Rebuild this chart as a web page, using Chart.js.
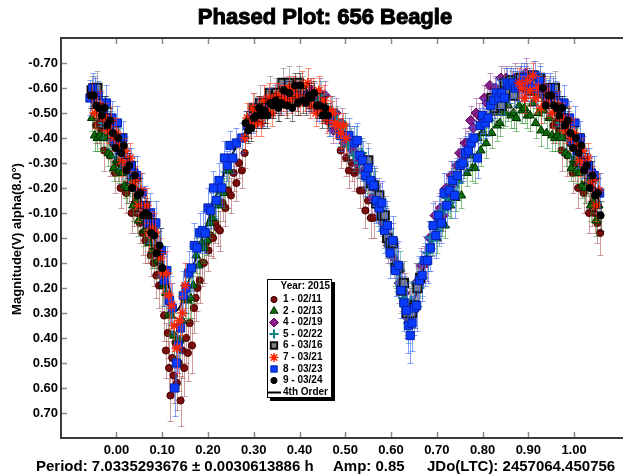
<!DOCTYPE html>
<html>
<head>
<meta charset="utf-8">
<title>Phased Plot: 656 Beagle</title>
<script src="https://cdn.jsdelivr.net/npm/chart.js@4.4.1/dist/chart.umd.min.js"></script>
<style>
  html, body { margin: 0; padding: 0; background: #ffffff; }
  canvas { display: block; }
</style>
</head>
<body>
<canvas id="lc" width="631" height="476"></canvas>
<script>
// ---- axis ticks ----
const xTickValues = [0.0, 0.1, 0.2, 0.3, 0.4, 0.5, 0.6, 0.7, 0.8, 0.9, 1.0];
const yTickValues = [-0.7, -0.6, -0.5, -0.4, -0.3, -0.2, -0.1, 0.0, 0.1, 0.2, 0.3, 0.4, 0.5, 0.6, 0.7];

// ---- observing sessions: [phase, reduced V magnitude, error] ----
const night1 = [ // 02/11
  [0.955,-0.45,0.07],[0.961,-0.46,0.08],[0.967,-0.43,0.07],[0.973,-0.35,0.08],[0.979,-0.41,0.07],
  [0.985,-0.33,0.08],[0.991,-0.38,0.07],[0.997,-0.26,0.08],[0.003,-0.30,0.07],[0.009,-0.20,0.08],
  [0.015,-0.27,0.07],[0.021,-0.18,0.08],[0.027,-0.21,0.07],[0.033,-0.10,0.08],[0.039,-0.13,0.08],
  [0.045,-0.10,0.08],[0.051,-0.06,0.08],[0.057,-0.02,0.09],[0.063,0.01,0.09],[0.069,0.01,0.09],
  [0.075,0.07,0.08],[0.081,0.10,0.09],[0.087,0.15,0.09],[0.093,0.19,0.09],[0.099,0.19,0.10],
  [0.104,0.31,0.10],[0.108,0.45,0.11],[0.112,0.38,0.10],[0.115,0.52,0.11],[0.118,0.63,0.10],
  [0.122,0.48,0.11],[0.125,0.55,0.11],[0.129,0.42,0.10],[0.132,0.58,0.11],[0.136,0.50,0.11],
  [0.140,0.65,0.10],[0.144,0.45,0.11],[0.148,0.52,0.11],[0.152,0.40,0.10],[0.156,0.46,0.11],
  [0.160,0.34,0.10],[0.165,0.43,0.11],[0.169,0.28,0.10],[0.173,0.24,0.09],[0.177,0.20,0.09],
  [0.182,0.17,0.09],[0.186,0.10,0.09],[0.191,0.10,0.08],[0.196,0.02,0.08],[0.201,0.05,0.08],
  [0.206,-0.01,0.08],[0.211,0.00,0.08],[0.216,-0.06,0.08],[0.221,-0.04,0.07],[0.226,-0.03,0.08],
  [0.232,-0.14,0.07],[0.238,-0.12,0.07],[0.244,-0.19,0.07],[0.250,-0.17,0.07],[0.256,-0.26,0.07],
  [0.262,-0.22,0.07],[0.268,-0.30,0.06],[0.274,-0.27,0.07],[0.280,-0.34,0.06],
  [0.490,-0.35,0.07],[0.496,-0.38,0.07],[0.502,-0.32,0.07],[0.508,-0.27,0.07],[0.514,-0.30,0.07],
  [0.520,-0.26,0.07],[0.526,-0.27,0.07],[0.532,-0.19,0.07],[0.538,-0.19,0.07],[0.544,-0.11,0.07],
  [0.550,-0.15,0.07],[0.556,-0.08,0.08],[0.562,-0.08,0.08]
];
const night2 = [ // 02/13
  [0.700,0.00,0.06],[0.706,-0.08,0.05],[0.712,-0.07,0.06],[0.718,-0.05,0.05],[0.724,-0.15,0.06],
  [0.730,-0.13,0.05],[0.736,-0.22,0.06],[0.742,-0.16,0.05],[0.748,-0.23,0.06],[0.754,-0.17,0.05],
  [0.760,-0.30,0.06],[0.766,-0.26,0.05],[0.772,-0.33,0.06],[0.778,-0.28,0.05],[0.784,-0.28,0.06],
  [0.790,-0.40,0.05],[0.796,-0.35,0.06],[0.802,-0.42,0.05],[0.808,-0.38,0.06],[0.814,-0.48,0.05],
  [0.820,-0.42,0.06],[0.826,-0.50,0.05],[0.832,-0.45,0.06],[0.838,-0.46,0.05],[0.844,-0.50,0.06],
  [0.850,-0.50,0.05],[0.856,-0.53,0.06],[0.862,-0.49,0.05],[0.868,-0.50,0.06],[0.874,-0.48,0.05],
  [0.880,-0.53,0.06],[0.886,-0.51,0.05],[0.892,-0.52,0.06],[0.898,-0.49,0.05],[0.904,-0.49,0.06],
  [0.910,-0.54,0.05],[0.916,-0.46,0.06],[0.922,-0.50,0.05],[0.928,-0.43,0.06],[0.934,-0.51,0.05],
  [0.940,-0.42,0.06],[0.946,-0.48,0.05],[0.952,-0.41,0.06],[0.958,-0.40,0.05],[0.964,-0.41,0.06],
  [0.970,-0.40,0.05],[0.976,-0.40,0.06],[0.982,-0.34,0.05],[0.988,-0.33,0.06],[0.994,-0.28,0.05],
  [0.000,-0.31,0.06],[0.006,-0.27,0.05],[0.012,-0.26,0.06],[0.018,-0.21,0.05],[0.024,-0.20,0.06],
  [0.030,-0.22,0.05],[0.036,-0.13,0.06],[0.042,-0.15,0.05],[0.048,-0.07,0.06],[0.054,-0.13,0.06],
  [0.060,-0.03,0.06],[0.066,-0.06,0.06],[0.072,0.02,0.06],[0.078,0.05,0.07],[0.084,0.05,0.07],
  [0.090,0.09,0.07],[0.096,0.10,0.07],[0.102,0.19,0.08],[0.108,0.22,0.08],[0.114,0.31,0.08],
  [0.120,0.31,0.09],[0.126,0.39,0.09],[0.132,0.41,0.09],[0.138,0.41,0.09],[0.144,0.33,0.08],
  [0.150,0.24,0.08],[0.156,0.25,0.08],[0.162,0.24,0.08],[0.168,0.19,0.07],[0.174,0.07,0.07],
  [0.180,0.11,0.07],[0.186,0.02,0.07],[0.192,0.04,0.06],[0.198,0.01,0.06],[0.204,-0.06,0.06],
  [0.210,-0.08,0.06],[0.216,-0.15,0.06],[0.222,-0.13,0.06],[0.228,-0.19,0.06],[0.234,-0.18,0.06],
  [0.240,-0.27,0.06],[0.246,-0.27,0.06]
];
const night4 = [ // 02/19
  [0.420,-0.56,0.06],[0.426,-0.59,0.05],[0.432,-0.56,0.06],[0.438,-0.52,0.05],[0.444,-0.58,0.06],
  [0.450,-0.53,0.05],[0.456,-0.57,0.06],[0.462,-0.48,0.05],[0.468,-0.51,0.06],[0.474,-0.43,0.05],
  [0.480,-0.50,0.06],[0.486,-0.43,0.05],[0.492,-0.46,0.06],[0.498,-0.38,0.05],[0.504,-0.40,0.06],
  [0.510,-0.40,0.05],[0.516,-0.35,0.06],[0.522,-0.34,0.06],[0.528,-0.30,0.06],[0.534,-0.33,0.06],
  [0.540,-0.27,0.06],[0.546,-0.27,0.06],[0.552,-0.23,0.06],[0.558,-0.16,0.06],[0.564,-0.20,0.07],
  [0.570,-0.16,0.07],[0.576,-0.15,0.07],[0.582,-0.06,0.07],[0.588,-0.05,0.07],[0.594,0.03,0.07],
  [0.600,0.01,0.07],[0.606,0.08,0.08],[0.612,0.10,0.08],[0.618,0.18,0.08],[0.624,0.21,0.08],
  [0.630,0.22,0.08],[0.636,0.32,0.08],[0.642,0.28,0.08],[0.648,0.28,0.08],[0.654,0.18,0.08],
  [0.660,0.19,0.08],[0.666,0.11,0.07],[0.672,0.10,0.07],[0.678,0.10,0.07],[0.684,0.00,0.07],
  [0.690,0.00,0.07],[0.696,-0.09,0.06],[0.702,-0.05,0.06],[0.708,-0.12,0.06],[0.714,-0.09,0.06],
  [0.720,-0.20,0.06],[0.726,-0.18,0.06],[0.732,-0.25,0.06],[0.738,-0.22,0.06],[0.744,-0.29,0.05],
  [0.750,-0.34,0.06],[0.756,-0.33,0.05],[0.762,-0.38,0.06],[0.768,-0.38,0.05],[0.774,-0.47,0.06],
  [0.780,-0.44,0.05],[0.786,-0.50,0.06],[0.792,-0.49,0.05],[0.798,-0.48,0.06],[0.804,-0.56,0.05],
  [0.810,-0.54,0.06],[0.816,-0.61,0.05],[0.822,-0.55,0.06],[0.828,-0.60,0.05],[0.834,-0.55,0.06],
  [0.840,-0.64,0.05],[0.846,-0.59,0.06],[0.852,-0.64,0.05],[0.858,-0.58,0.06],[0.864,-0.62,0.05],
  [0.870,-0.64,0.06],[0.876,-0.61,0.05],[0.882,-0.63,0.06],[0.888,-0.60,0.05],[0.894,-0.66,0.06],
  [0.900,-0.60,0.05]
];
const night5 = [ // 02/22
  [0.440,-0.55,0.05],[0.446,-0.57,0.06],[0.452,-0.51,0.05],[0.458,-0.52,0.06],[0.464,-0.46,0.05],
  [0.470,-0.51,0.06],[0.476,-0.47,0.05],[0.482,-0.47,0.06],[0.488,-0.42,0.05],[0.494,-0.42,0.06],
  [0.500,-0.45,0.05],[0.506,-0.37,0.06],[0.512,-0.39,0.05],[0.518,-0.33,0.06],[0.524,-0.39,0.06],
  [0.530,-0.30,0.06],[0.536,-0.34,0.06],[0.542,-0.26,0.06],[0.548,-0.23,0.06],[0.554,-0.24,0.06],
  [0.560,-0.21,0.06],[0.566,-0.21,0.07],[0.572,-0.12,0.07],[0.578,-0.11,0.07],[0.584,-0.03,0.07],
  [0.590,-0.06,0.07],[0.596,0.01,0.07],[0.602,0.03,0.07],[0.608,0.11,0.08],[0.614,0.13,0.08],
  [0.620,0.13,0.08],[0.626,0.24,0.08],[0.632,0.25,0.08],[0.638,0.34,0.08],[0.644,0.25,0.08],
  [0.650,0.28,0.08],[0.656,0.18,0.08],[0.662,0.20,0.07],[0.668,0.16,0.07],[0.674,0.09,0.07],
  [0.680,0.06,0.07],[0.686,0.00,0.07],[0.692,0.01,0.06],[0.698,-0.04,0.06],[0.704,-0.03,0.06],
  [0.710,-0.11,0.06],[0.716,-0.11,0.06],[0.722,-0.16,0.06],[0.728,-0.14,0.06],[0.734,-0.19,0.06],
  [0.740,-0.25,0.05],[0.746,-0.22,0.05],
  [0.965,-0.53,0.05],[0.971,-0.46,0.06],[0.977,-0.52,0.05],[0.983,-0.42,0.06],[0.989,-0.46,0.05],
  [0.995,-0.39,0.06],[0.001,-0.36,0.05],[0.007,-0.38,0.06],[0.013,-0.34,0.05],[0.019,-0.35,0.06],
  [0.025,-0.27,0.06]
];
const night6 = [ // 03/16
  [0.300,-0.52,0.06],[0.307,-0.50,0.06],[0.314,-0.54,0.07],[0.321,-0.50,0.06],[0.328,-0.54,0.06],
  [0.335,-0.58,0.07],[0.342,-0.54,0.06],[0.349,-0.58,0.06],[0.356,-0.54,0.07],[0.363,-0.62,0.06],
  [0.370,-0.56,0.06],[0.377,-0.62,0.07],[0.384,-0.58,0.06],[0.391,-0.55,0.06],[0.398,-0.62,0.07],
  [0.405,-0.59,0.06],
  [0.550,-0.31,0.07],[0.556,-0.22,0.07],[0.562,-0.21,0.07],[0.568,-0.14,0.07],[0.574,-0.17,0.07],
  [0.580,-0.09,0.08],[0.586,-0.09,0.08],[0.592,0.00,0.08],[0.598,0.02,0.08],[0.604,0.02,0.08],
  [0.610,0.12,0.08],[0.616,0.12,0.08],[0.622,0.21,0.09],[0.628,0.18,0.09],[0.634,0.30,0.09],
  [0.640,0.28,0.09],[0.646,0.30,0.09],[0.652,0.27,0.09],[0.658,0.20,0.08],[0.664,0.16,0.08],
  [0.820,-0.56,0.06],[0.827,-0.52,0.06],[0.834,-0.57,0.07],[0.841,-0.53,0.06],[0.848,-0.62,0.06],
  [0.855,-0.58,0.07],[0.862,-0.63,0.06],[0.869,-0.57,0.06],[0.876,-0.62,0.07],[0.883,-0.64,0.06],
  [0.890,-0.61,0.06],[0.897,-0.63,0.07],[0.904,-0.59,0.06],[0.911,-0.65,0.06],[0.918,-0.59,0.07],
  [0.925,-0.64,0.06],[0.932,-0.58,0.06],[0.939,-0.57,0.07],[0.946,-0.59,0.06],[0.953,-0.59,0.06],
  [0.958,-0.60,0.07]
];
const night7 = [ // 03/21
  [0.280,-0.40,0.05],[0.286,-0.48,0.06],[0.292,-0.45,0.05],[0.298,-0.52,0.06],[0.304,-0.46,0.05],
  [0.310,-0.51,0.06],[0.316,-0.46,0.05],[0.322,-0.55,0.06],[0.328,-0.51,0.05],[0.334,-0.56,0.06],
  [0.340,-0.50,0.05],[0.346,-0.56,0.06],[0.352,-0.57,0.05],[0.358,-0.55,0.06],[0.364,-0.56,0.05],
  [0.370,-0.55,0.06],[0.376,-0.60,0.05],[0.382,-0.56,0.06],[0.388,-0.60,0.05],[0.394,-0.57,0.06],
  [0.400,-0.54,0.05],[0.406,-0.61,0.06],[0.412,-0.56,0.05],[0.418,-0.62,0.06],[0.424,-0.53,0.05],
  [0.430,-0.58,0.06],[0.436,-0.50,0.05],[0.442,-0.59,0.06],[0.448,-0.51,0.05],[0.454,-0.55,0.06],
  [0.460,-0.47,0.05],[0.466,-0.51,0.06],[0.472,-0.50,0.05],[0.478,-0.46,0.06],[0.484,-0.45,0.05],
  [0.490,-0.42,0.06],[0.496,-0.45,0.05],[0.502,-0.40,0.06],
  [0.880,-0.62,0.06],[0.886,-0.60,0.05],[0.892,-0.56,0.06],[0.898,-0.63,0.05],[0.904,-0.59,0.06],
  [0.910,-0.65,0.05],[0.916,-0.56,0.06],[0.922,-0.60,0.05],[0.928,-0.52,0.06],[0.934,-0.60,0.05],
  [0.940,-0.54,0.06],[0.946,-0.57,0.05],[0.952,-0.50,0.06],[0.958,-0.53,0.05],[0.964,-0.53,0.06],
  [0.970,-0.48,0.05],[0.976,-0.48,0.06],[0.982,-0.43,0.05],[0.988,-0.47,0.06],[0.994,-0.40,0.05],
  [0.000,-0.42,0.06],[0.006,-0.37,0.05],[0.012,-0.31,0.06],[0.018,-0.35,0.05],[0.024,-0.29,0.06],
  [0.030,-0.32,0.06],[0.036,-0.21,0.06],[0.042,-0.23,0.06],[0.048,-0.13,0.06],[0.054,-0.19,0.07],
  [0.060,-0.10,0.07],[0.066,-0.13,0.07],[0.072,-0.02,0.07],[0.078,-0.04,0.07],[0.084,-0.02,0.08],
  [0.090,0.05,0.08],[0.096,0.08,0.08],[0.102,0.14,0.08],[0.108,0.14,0.09],[0.114,0.23,0.09],
  [0.120,0.27,0.09],[0.126,0.35,0.10],[0.132,0.44,0.10],[0.138,0.33,0.10],[0.144,0.30,0.09],
  [0.150,0.19,0.09]
];
const night8 = [ // 03/23
  [0.930,-0.59,0.07],[0.936,-0.60,0.06],[0.942,-0.56,0.07],[0.948,-0.60,0.06],[0.954,-0.57,0.07],
  [0.960,-0.57,0.06],[0.966,-0.52,0.07],[0.972,-0.51,0.06],[0.978,-0.54,0.07],[0.984,-0.45,0.06],
  [0.990,-0.48,0.07],[0.996,-0.39,0.07],[0.002,-0.46,0.07],[0.008,-0.35,0.07],[0.014,-0.40,0.07],
  [0.020,-0.31,0.07],[0.026,-0.29,0.07],[0.032,-0.29,0.07],[0.038,-0.26,0.07],[0.044,-0.25,0.08],
  [0.050,-0.18,0.08],[0.056,-0.18,0.08],[0.062,-0.13,0.08],[0.068,-0.06,0.08],[0.074,-0.10,0.08],
  [0.080,-0.03,0.09],[0.086,-0.06,0.09],[0.092,0.06,0.09],[0.098,0.05,0.09],[0.104,0.17,0.10],
  [0.110,0.13,0.10],[0.116,0.25,0.10],[0.122,0.28,0.10],[0.127,0.60,0.11],[0.131,0.50,0.11],
  [0.135,0.43,0.11],[0.140,0.36,0.10],[0.146,0.23,0.10],[0.152,0.20,0.10],[0.158,0.14,0.09],
  [0.164,0.12,0.09],[0.170,0.03,0.09],[0.176,0.04,0.08],[0.182,-0.02,0.08],[0.188,-0.03,0.08],
  [0.194,-0.02,0.08],[0.200,-0.12,0.08],[0.206,-0.11,0.07],[0.212,-0.20,0.07],[0.218,-0.15,0.07],
  [0.224,-0.23,0.07],[0.230,-0.20,0.07],[0.236,-0.32,0.07],[0.242,-0.29,0.06],[0.248,-0.37,0.06],
  [0.254,-0.32,0.06],
  [0.262,-0.38,0.06],[0.274,-0.40,0.06],[0.286,-0.45,0.06],[0.298,-0.48,0.06],[0.310,-0.50,0.06],
  [0.322,-0.51,0.06],[0.334,-0.54,0.06],[0.346,-0.55,0.06],[0.358,-0.56,0.06],[0.370,-0.57,0.06],
  [0.394,-0.57,0.06],[0.418,-0.57,0.06],[0.442,-0.53,0.06],[0.466,-0.47,0.06],[0.490,-0.41,0.06],
  [0.508,-0.41,0.07],
  [0.520,-0.38,0.07],[0.526,-0.39,0.07],[0.532,-0.33,0.07],[0.538,-0.31,0.08],[0.544,-0.25,0.08],
  [0.550,-0.28,0.08],[0.556,-0.23,0.08],[0.562,-0.21,0.08],[0.568,-0.15,0.09],[0.574,-0.12,0.09],
  [0.580,-0.14,0.09],[0.586,-0.03,0.09],[0.592,-0.05,0.10],[0.598,0.06,0.10],[0.604,0.01,0.10],
  [0.610,0.13,0.10],[0.616,0.11,0.10],[0.622,0.21,0.11],[0.628,0.26,0.11],[0.634,0.29,0.11],
  [0.638,0.35,0.11],[0.642,0.39,0.11],[0.646,0.34,0.11],[0.651,0.28,0.11],[0.656,0.27,0.10],
  [0.662,0.17,0.10],[0.668,0.15,0.10],[0.674,0.09,0.10],[0.680,0.09,0.09],[0.686,0.04,0.09],
  [0.692,-0.05,0.09],[0.698,-0.01,0.09],[0.704,-0.09,0.08],[0.710,-0.06,0.08],[0.716,-0.18,0.08],
  [0.722,-0.13,0.08],[0.728,-0.19,0.08],[0.734,-0.23,0.08],[0.739,-0.17,0.09],[0.745,-0.25,0.07],
  [0.751,-0.29,0.07],[0.757,-0.30,0.07],[0.763,-0.34,0.07],[0.769,-0.35,0.07],[0.775,-0.38,0.07],
  [0.781,-0.40,0.07],[0.789,-0.32,0.08],[0.795,-0.45,0.07],
  [0.800,-0.49,0.07],[0.806,-0.46,0.06],[0.812,-0.48,0.07],[0.818,-0.53,0.06],[0.824,-0.55,0.07],
  [0.830,-0.58,0.06],[0.836,-0.56,0.07],[0.842,-0.58,0.06],[0.848,-0.56,0.07],[0.854,-0.62,0.06],
  [0.860,-0.61,0.07],[0.866,-0.62,0.06],[0.872,-0.60,0.07],[0.878,-0.61,0.06],[0.884,-0.62,0.07],
  [0.890,-0.64,0.06],[0.896,-0.62,0.07],[0.902,-0.62,0.06],[0.908,-0.60,0.07],[0.914,-0.65,0.06],
  [0.920,-0.60,0.07],[0.926,-0.63,0.06]
];
const night9 = [ // 03/24
  [0.932,-0.60,0.05],[0.938,-0.53,0.05],[0.944,-0.57,0.05],[0.950,-0.57,0.05],[0.956,-0.53,0.05],
  [0.962,-0.52,0.05],[0.968,-0.49,0.05],[0.974,-0.52,0.05],[0.980,-0.45,0.05],[0.986,-0.47,0.05],
  [0.992,-0.42,0.05],[0.998,-0.36,0.05],[0.004,-0.40,0.05],[0.010,-0.34,0.05],[0.016,-0.37,0.05],
  [0.022,-0.27,0.05],[0.028,-0.29,0.05],[0.034,-0.20,0.05],[0.040,-0.25,0.06],[0.046,-0.17,0.06],
  [0.052,-0.18,0.06],[0.058,-0.09,0.06],[0.064,-0.10,0.06],[0.070,-0.09,0.06],[0.076,-0.02,0.06],
  [0.082,-0.01,0.07],[0.088,0.06,0.07],[0.094,0.03,0.07],[0.100,0.12,0.07],
  [0.282,-0.46,0.05],[0.288,-0.43,0.05],[0.294,-0.44,0.05],[0.300,-0.48,0.05],[0.306,-0.49,0.05],
  [0.312,-0.52,0.05],[0.318,-0.49,0.05],[0.324,-0.51,0.05],[0.330,-0.49,0.05],[0.336,-0.54,0.05],
  [0.342,-0.53,0.05],[0.348,-0.55,0.05],[0.354,-0.52,0.05],[0.360,-0.54,0.05],[0.366,-0.59,0.05],
  [0.372,-0.53,0.05],[0.378,-0.58,0.05],[0.384,-0.52,0.05],[0.390,-0.61,0.05],[0.396,-0.54,0.05],
  [0.402,-0.61,0.05],[0.408,-0.55,0.05],[0.414,-0.54,0.05],[0.420,-0.57,0.05],[0.426,-0.56,0.05],
  [0.432,-0.58,0.05],[0.438,-0.53,0.05],[0.444,-0.53,0.05],[0.450,-0.49,0.05],[0.456,-0.52,0.05],
  [0.462,-0.49,0.05]
];

// ---- 4th order Fourier fit: [phase, magnitude] ----
const fourthOrder = [
  [-0.06,-0.57],[-0.04,-0.53],[-0.02,-0.47],[0.00,-0.39],[0.02,-0.31],[0.04,-0.22],[0.06,-0.12],
  [0.08,-0.02],[0.10,0.10],[0.12,0.23],[0.13,0.29],[0.14,0.27],[0.16,0.16],[0.18,0.04],
  [0.20,-0.07],[0.22,-0.18],[0.24,-0.28],[0.26,-0.36],[0.28,-0.42],[0.30,-0.47],[0.32,-0.50],
  [0.34,-0.53],[0.36,-0.55],[0.38,-0.56],[0.40,-0.57],[0.42,-0.57],[0.44,-0.55],[0.46,-0.52],
  [0.48,-0.47],[0.50,-0.42],[0.52,-0.36],[0.54,-0.29],[0.56,-0.21],[0.58,-0.10],[0.60,0.03],
  [0.62,0.16],[0.64,0.27],[0.66,0.20],[0.68,0.06],[0.70,-0.05],[0.72,-0.14],[0.74,-0.22],
  [0.76,-0.30],[0.78,-0.37],[0.80,-0.44],[0.82,-0.50],[0.84,-0.54],[0.86,-0.57],[0.88,-0.59],
  [0.90,-0.60],[0.92,-0.59],[0.94,-0.57],[0.96,-0.53],[0.98,-0.47],[1.00,-0.39],[1.02,-0.31],
  [1.04,-0.22],[1.06,-0.12]
];

const sessionLabels = ['1 - 02/11', '2 - 02/13', '4 - 02/19', '5 - 02/22', '6 - 03/16', '7 - 03/21', '8 - 03/23', '9 - 03/24'];

// Points near the ends of the cycle are also shown one period away.
function phased(rows) {
  const out = [];
  for (const [p, m, e] of rows) {
    out.push({ x: p, y: m, e });
    if (p < 0.06) out.push({ x: p + 1, y: m, e });
    if (p > 0.94) out.push({ x: p - 1, y: m, e });
  }
  return out;
}

const FONT = "'Liberation Sans', Arial, Helvetica, sans-serif";
Chart.defaults.font.family = FONT;

// drawing layer: lower numbers are painted on top
const styles = [
  { rows: night1, layer: 8, pointStyle: 'circle',   radius: 3.6, bg: '#7a0c0c', border: '#480000', bw: 1,   err: 'rgba(165,75,75,0.55)' },
  { rows: night2, layer: 7, pointStyle: 'triangle', radius: 5,   bg: '#0a6a0a', border: '#003000', bw: 1,   err: 'rgba(40,140,40,0.55)' },
  { rows: night4, layer: 6, pointStyle: 'rectRot',  radius: 5,   bg: '#8a1f8a', border: '#560056', bw: 1,   err: 'rgba(150,70,150,0.55)' },
  { rows: night5, layer: 5, pointStyle: 'cross',    radius: 5,   bg: '#0a8080', border: '#0a8080', bw: 2,   err: 'rgba(40,150,150,0.55)' },
  { rows: night6, layer: 4, pointStyle: 'rect',     radius: 6,   bg: '#808080', border: '#111111', bw: 2,   err: 'rgba(120,120,120,0.55)' },
  { rows: night7, layer: 2, pointStyle: 'star',     radius: 5,   bg: '#ff2400', border: '#ff2400', bw: 1.5, err: 'rgba(255,60,30,0.6)' },
  { rows: night8, layer: 3, pointStyle: 'rect',     radius: 5.8, bg: '#0a3cff', border: '#0022a8', bw: 1,   err: 'rgba(50,100,255,0.6)' },
  { rows: night9, layer: 1, pointStyle: 'circle',   radius: 3.6, bg: '#000000', border: '#000000', bw: 1,   err: 'rgba(0,0,0,0.5)' }
];

const datasets = styles.map((s, i) => ({
  type: 'scatter',
  label: sessionLabels[i],
  data: phased(s.rows),
  pointStyle: s.pointStyle,
  pointRadius: s.radius,
  pointBackgroundColor: s.bg,
  pointBorderColor: s.border,
  pointBorderWidth: s.bw,
  errColor: s.err,
  order: s.layer
}));

datasets.push({
  type: 'line',
  label: '4th Order',
  data: fourthOrder.map(([p, m]) => ({ x: p, y: m })),
  borderColor: '#000000',
  borderWidth: 2,
  pointRadius: 0,
  fill: false,
  cubicInterpolationMode: 'monotone',
  order: 100
});

// Error bars, drawn just before each session's markers.
const errorBars = {
  id: 'errorBars',
  beforeDatasetDraw(chart, args) {
    const ds = chart.data.datasets[args.index];
    if (!ds.errColor) return;
    const { ctx, chartArea: a, scales: { x, y } } = chart;
    ctx.save();
    ctx.beginPath();
    ctx.rect(a.left, a.top, a.right - a.left, a.bottom - a.top);
    ctx.clip();
    ctx.strokeStyle = ds.errColor;
    ctx.lineWidth = 1;
    for (const p of ds.data) {
      const px = Math.round(x.getPixelForValue(p.x)) + 0.5;
      const y1 = Math.round(y.getPixelForValue(p.y - p.e)) + 0.5;
      const y2 = Math.round(y.getPixelForValue(p.y + p.e)) + 0.5;
      ctx.beginPath();
      ctx.moveTo(px, y1); ctx.lineTo(px, y2);
      ctx.moveTo(px - 3, y1); ctx.lineTo(px + 3, y1);
      ctx.moveTo(px - 3, y2); ctx.lineTo(px + 3, y2);
      ctx.stroke();
    }
    ctx.restore();
  }
};

// Frame, inward tick marks, titles, footer and legend box.
const decorations = {
  id: 'decorations',
  afterDraw(chart) {
    const { ctx, chartArea: a, scales: { x, y } } = chart;
    ctx.save();

    // inward tick marks
    ctx.strokeStyle = '#8a8a8a';
    ctx.lineWidth = 1.5;
    ctx.beginPath();
    for (const v of xTickValues) {
      const px = Math.round(x.getPixelForValue(v)) + 0.5;
      ctx.moveTo(px, a.bottom); ctx.lineTo(px, a.bottom - 6);
      ctx.moveTo(px, a.top); ctx.lineTo(px, a.top + 6);
    }
    for (const v of yTickValues) {
      const py = Math.round(y.getPixelForValue(v)) + 0.5;
      ctx.moveTo(a.left, py); ctx.lineTo(a.left + 6, py);
    }
    ctx.stroke();

    // frame: left, bottom and top edges
    ctx.strokeStyle = '#3c3c3c';
    ctx.lineWidth = 2;
    ctx.beginPath();
    ctx.moveTo(a.right, a.top); ctx.lineTo(a.left, a.top);
    ctx.lineTo(a.left, a.bottom); ctx.lineTo(a.right, a.bottom);
    ctx.stroke();

    ctx.fillStyle = '#000';
    ctx.strokeStyle = '#000';
    ctx.textBaseline = 'middle';

    // title (heavy weight)
    ctx.font = `bold 22px ${FONT}`;
    ctx.textAlign = 'center';
    ctx.lineWidth = 1;
    ctx.fillText('Phased Plot: 656 Beagle', 325, 18);
    ctx.strokeText('Phased Plot: 656 Beagle', 325, 18);

    // footer
    ctx.font = `bold 15px ${FONT}`;
    ctx.textAlign = 'left';
    ctx.fillText('Period: 7.0335293676 \u00b1 0.0030613886 h', 36, 467);
    ctx.fillText('Amp: 0.85', 333, 467);
    ctx.fillText('JDo(LTC): 2457064.450756', 427, 467);

    // y axis title
    ctx.save();
    ctx.translate(17, 239);
    ctx.rotate(-Math.PI / 2);
    ctx.font = `bold 13px ${FONT}`;
    ctx.textAlign = 'center';
    ctx.fillText('Magnitude(V) alpha(8.0\u00b0)', 0, 0);
    ctx.restore();

    // legend
    const L = 267, T = 279, W = 65, H = 119;
    ctx.fillStyle = '#000';
    ctx.fillRect(L + 3, T + 3, W, H);
    ctx.fillStyle = '#fff';
    ctx.fillRect(L, T, W, H);
    ctx.strokeStyle = '#000';
    ctx.lineWidth = 1;
    ctx.strokeRect(L + 0.5, T + 0.5, W - 1, H - 1);

    ctx.fillStyle = '#000';
    ctx.font = `bold 10px ${FONT}`;
    ctx.textAlign = 'right';
    ctx.fillText('Year: 2015', L + W - 2, T + 7.5);
    ctx.textAlign = 'left';
    const rowY = [299.5, 311, 322.5, 334, 345.5, 357.5, 369, 380.5];
    styles.forEach((s, i) => {
      const cy = rowY[i];
      ctx.save();
      ctx.fillStyle = s.bg;
      ctx.strokeStyle = s.border;
      ctx.lineWidth = s.bw;
      Chart.helpers.drawPoint(ctx, { pointStyle: s.pointStyle, radius: Math.min(s.radius, 5) - 0.5, rotation: 0, borderWidth: s.bw }, 274, cy);
      ctx.restore();
      ctx.fillStyle = '#000';
      ctx.fillText(sessionLabels[i], 283, cy);
    });
    ctx.strokeStyle = '#000';
    ctx.lineWidth = 2;
    ctx.beginPath();
    ctx.moveTo(268, 392.5); ctx.lineTo(281, 392.5);
    ctx.stroke();
    ctx.fillText('4th Order', 283, 392.5);

    ctx.restore();
  }
};

new Chart(document.getElementById('lc'), {
  type: 'scatter',
  data: { datasets },
  options: {
    responsive: false,
    devicePixelRatio: 1,
    animation: false,
    events: [],
    layout: { padding: { top: 38, left: 0, right: 0, bottom: 0 } },
    plugins: { legend: { display: false }, tooltip: { enabled: false }, title: { display: false } },
    scales: {
      x: {
        type: 'linear',
        min: -0.1213,
        max: 1.107,
        afterBuildTicks: s => { s.ticks = xTickValues.map(v => ({ value: v })); },
        afterFit: s => { s.height = 38; },
        grid: { display: false, drawTicks: false },
        border: { display: false },
        ticks: {
          autoSkip: false, maxRotation: 0, padding: 5, color: '#000',
          font: { size: 13, weight: 'bold' },
          callback: v => v.toFixed(2)
        }
      },
      y: {
        type: 'linear',
        min: -0.8,
        max: 0.8,
        reverse: true,
        afterBuildTicks: s => { s.ticks = yTickValues.map(v => ({ value: v })); },
        afterFit: s => { s.width = 61; },
        grid: { display: false, drawTicks: false },
        border: { display: false },
        ticks: {
          autoSkip: false, padding: 3, color: '#000',
          font: { size: 13, weight: 'bold' },
          callback: v => (Math.abs(v) < 1e-9 ? '0.00' : v.toFixed(2))
        }
      }
    }
  },
  plugins: [errorBars, decorations]
});
</script>
</body>
</html>
